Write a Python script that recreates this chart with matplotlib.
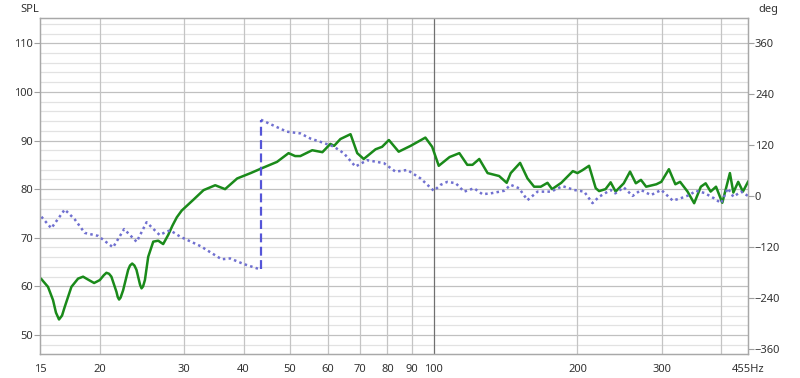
import numpy as np
import matplotlib
matplotlib.use("Agg")
import matplotlib.pyplot as plt
from matplotlib.ticker import FixedLocator, NullLocator

# SPL trace (Hz, dB)
spl_freq = [15.1, 15.59, 15.97, 16.2, 16.44, 16.68, 16.9, 17.45, 18.02, 18.46,
            18.91, 19.47, 20.01, 20.4, 20.66, 20.92, 21.16, 21.68, 21.82, 21.96,
            22.12, 22.39, 22.94, 23.15, 23.39, 23.64, 23.88, 24.3, 24.47, 24.65,
            24.87, 25.27, 25.89, 26.52, 27.16, 27.83, 28.4, 29.0, 29.7, 31.4,
            33.0, 34.9, 36.6, 38.8, 41.4, 43.7, 47.0, 49.7, 51.3, 52.6,
            55.7, 58.5, 60.8, 61.9, 63.8, 67.0, 69.2, 71.4, 75.6, 78.0,
            80.6, 84.5, 89.5, 96.1, 99.3, 102.5, 108.0, 113.2, 117.6, 120.6,
            124.6, 129.7, 137.1, 142.2, 145.0, 151.7, 157.2, 162.3, 167.6, 173.1,
            177.0, 185.0, 195.6, 200.0, 204.9, 211.5, 218.4, 222.0, 229.0, 234.7,
            240.4, 250.0, 257.7, 265.0, 271.6, 278.5, 292.5, 299.6, 310.8, 320.6,
            328.0, 340.0, 351.0, 362.5, 371.0, 380.0, 390.0, 402.0, 417.0, 424.0,
            434.0, 444.0, 455.0]
spl_db = [61.5, 59.9, 57.2, 54.6, 53.2, 54.0, 55.8, 59.9, 61.6, 62.0,
          61.4, 60.7, 61.3, 62.3, 62.8, 62.6, 62.0, 58.9, 57.8, 57.3,
          57.7, 59.2, 63.4, 64.3, 64.7, 64.3, 63.4, 60.3, 59.6, 60.0,
          61.3, 66.1, 69.2, 69.4, 68.7, 70.6, 72.5, 74.2, 75.6, 77.8,
          79.8, 80.8, 80.0, 82.2, 83.3, 84.3, 85.6, 87.4, 86.8, 86.8,
          88.0, 87.6, 89.3, 88.9, 90.3, 91.3, 87.4, 86.2, 88.2, 88.7,
          90.1, 87.7, 88.9, 90.6, 88.7, 84.8, 86.6, 87.4, 85.0, 85.0,
          86.2, 83.3, 82.7, 81.3, 83.3, 85.4, 82.2, 80.5, 80.5, 81.3,
          80.0, 81.3, 83.7, 83.3, 83.9, 84.8, 80.2, 79.6, 80.0, 81.4,
          79.5, 81.2, 83.6, 81.2, 81.9, 80.5, 81.0, 81.5, 84.1, 81.0,
          81.5, 79.5, 77.1, 80.5, 81.2, 79.5, 80.5, 77.2, 83.3, 79.3,
          81.5, 79.5, 81.5]

# phase trace (Hz, deg), wraps from -180 to +180 near 43.5 Hz
ph_freq = [15.1, 15.84, 16.9, 17.73, 18.61, 19.85, 21.33, 22.5, 23.9, 25.07,
           26.7, 27.6, 28.1, 29.5, 32.5, 36.0, 37.5, 40.0, 43.4, 43.5,
           49.3, 52.6, 55.2, 58.0, 61.8, 64.9, 68.6, 72.6, 78.7, 83.2,
           88.1, 93.9, 100.1, 103.4, 106.8, 111.2, 115.8, 121.5, 126.5, 131.7,
           140.4, 145.0, 150.9, 157.2, 165.0, 176.0, 186.2, 196.8, 206.6, 215.0,
           222.0, 234.7, 240.0, 250.0, 261.0, 271.6, 285.0, 299.6, 316.5, 328.0,
           343.0, 354.0, 368.7, 386.8, 399.6, 412.8, 424.0, 440.0, 455.0]
ph_deg = [-48, -75, -31, -54, -86, -93, -120, -77, -107, -61,
          -91, -83, -80, -95, -117, -148, -146, -159, -172, 180,
          152, 148, 136, 128, 117, 101, 70, 85, 78, 58,
          62, 42, 13, 27, 34, 31, 11, 19, 5, 7,
          13, 27, 19, -9, 11, 11, 24, 15, 11, -16,
          -1, 15, 7, 21, 1, 15, 3, 15, -10, -5,
          3, 13, 8, -5, -16, 19, -1, 11, 1]

x_ticks = [15, 20, 30, 40, 50, 60, 70, 80, 90, 100, 200, 300, 455]
x_labels = ["15", "20", "30", "40", "50", "60", "70", "80", "90", "100", "200", "300", "455Hz"]
x_grid = [20, 30, 40, 50, 60, 70, 80, 90, 200, 300, 400]
spl_ticks = [50, 60, 70, 80, 90, 100, 110]
deg_ticks = [-360, -240, -120, 0, 120, 240, 360]

plt.rcParams['font.family'] = ['Noto Sans', 'DejaVu Sans']
plt.rcParams['font.size'] = 8

fig = plt.figure(figsize=(8, 3.78), dpi=100)
ax = fig.add_axes([0.05, 0.0635, 0.885, 0.889])
ax2 = ax.twinx()

ax.set_xscale('log')
ax.set_xlim(15, 455)
ax.set_ylim(46.1, 115.2)
ax2.set_ylim(-370.7, 419.4)

# grid
for y in np.arange(48, 116, 2):
    ax.axhline(y, color='#c0c0c0' if y % 10 == 0 else '#e2e2e2', lw=0.9, zorder=0)
for f in x_grid:
    ax.axvline(f, color='#c4c4c4', lw=0.9, zorder=0)
ax.axvline(100, color='#707070', lw=0.9, zorder=0)

ax.plot(spl_freq, spl_db, color='#1a8a1a', lw=1.8, zorder=3, solid_joinstyle='round')

# phase: dotted, with a dashed jump where it wraps
ph_freq = np.array(ph_freq)
ph_deg = np.array(ph_deg)
wrap = np.where(np.abs(np.diff(ph_deg)) > 180)[0][0]
ax2.plot(ph_freq[:wrap + 1], ph_deg[:wrap + 1], color='#7070d0', lw=1.8, ls=(0, (1, 1.3)))
ax2.plot(ph_freq[wrap + 1:], ph_deg[wrap + 1:], color='#7070d0', lw=1.8, ls=(0, (1, 1.3)))
ax2.plot([ph_freq[wrap + 1], ph_freq[wrap + 1]], [ph_deg[wrap], ph_deg[wrap + 1]],
         color='#5555d8', lw=1.6, ls=(0, (4, 2)))

ax.xaxis.set_major_locator(FixedLocator(x_ticks))
ax.xaxis.set_minor_locator(NullLocator())
ax.set_xticklabels(x_labels)
ax.set_yticks(spl_ticks)
ax2.set_yticks(deg_ticks)

ax.tick_params(axis='x', length=0, pad=7, colors='#333333')
ax.tick_params(axis='y', length=4, pad=1, colors='#333333')
ax2.tick_params(axis='y', length=4, pad=1, colors='#333333')
ax.tick_params(axis='y', color='#a0a0a0')
ax2.tick_params(axis='y', color='#a0a0a0')

for a in (ax, ax2):
    for s in a.spines.values():
        s.set_color('#a8a8a8')
        s.set_linewidth(0.9)

fig.text(0.025, 0.975, "SPL", ha='left', va='center', fontsize=8, color='#333333')
fig.text(0.948, 0.975, "deg", ha='left', va='center', fontsize=8, color='#333333')

fig.savefig("out.png", dpi=100)
